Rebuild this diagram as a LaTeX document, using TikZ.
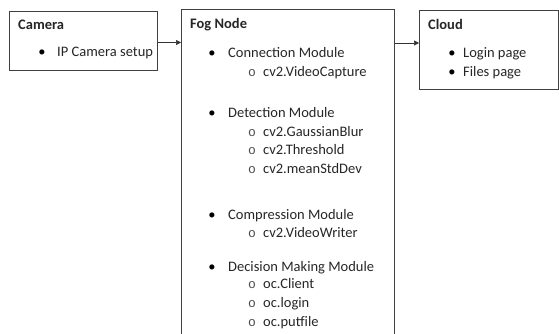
\documentclass[tikz,border=0pt]{standalone}
\usepackage{fontspec}
\setmainfont{Carlito}
\newfontfamily\subfont{Liberation Mono}
\usepackage{tikz}
\usetikzlibrary{positioning,arrows.meta}

\tikzset{
  box/.style={draw=black!75, line width=1pt, anchor=north west, inner sep=0pt},
  title/.style={anchor=base west, inner sep=0pt, text=black!85, font=\fontsize{14.5}{18}\selectfont\bfseries},
  item/.style={anchor=base west, inner sep=0pt, text=black!85, font=\fontsize{14.5}{18}\selectfont},
  dot/.style={anchor=base, inner sep=0pt, font=\fontsize{14.5}{18}\selectfont},
  subdot/.style={anchor=base, inner sep=0pt, text=black!70, font=\fontsize{13}{16}\subfont},
  link/.style={draw=black!80, line width=0.6pt, -{Triangle[length=5pt,width=5pt]}}
}

\begin{document}
\begin{tikzpicture}[x=1pt,y=1pt]
  \clip (0,0) rectangle (559,-333);
  % boxes
  \node[box, minimum width=148pt, minimum height=59pt] (camera) at (9,-11) {};
  \node[box, minimum width=213pt, minimum height=340pt] (fog) at (181,-9) {};
  \node[box, minimum width=139pt, minimum height=79pt] (cloud) at (419,-10) {};
  % camera
  \node[title] (camera-t) at (18,-29) {Camera};
  \node[dot] (ip-dot) at (42,-56) {\textbullet};
  \node[item] (ip) at (57,-56) {IP Camera setup};
  % fog node
  \node[title] (fog-t) at (190,-28) {Fog Node};
  \foreach \n/\y/\t in {con/57/Connection Module, det/117/Detection Module,
                        com/219/Compression Module, dec/271/Decision Making Module} {
    \node[dot] (\n-dot) at (212,-\y) {\textbullet};
    \node[item] (\n) at (228,-\y) {\t};
  }
  \foreach \n/\y/\t in {cap/76/cv2.VideoCapture, gau/136/cv2.GaussianBlur,
                        thr/154.5/cv2.Threshold, msd/173.5/cv2.meanStdDev,
                        vw/237.5/cv2.VideoWriter, cli/288.5/oc.Client,
                        log/307/oc.login, put/326/oc.putfile} {
    \node[subdot] (\n-dot) at (252,-\y) {o};
    \node[item] (\n) at (263,-\y) {\t};
  }
  % cloud
  \node[title] (cloud-t) at (428,-29) {Cloud};
  \node[dot] (lp-dot) at (452,-57) {\textbullet};
  \node[item] (lp) at (463,-57) {Login page};
  \node[dot] (fp-dot) at (452,-76) {\textbullet};
  \node[item] (fp) at (463,-76) {Files page};
  % arrows
  \coordinate (c-out) at ([yshift=-1.5pt]camera.east);
  \coordinate (f-out) at (fog.east |- 0,-43);
  \draw[link] (c-out) -- (c-out -| fog.west);
  \draw[link] (f-out) -- (f-out -| cloud.west);
\end{tikzpicture}
\end{document}
